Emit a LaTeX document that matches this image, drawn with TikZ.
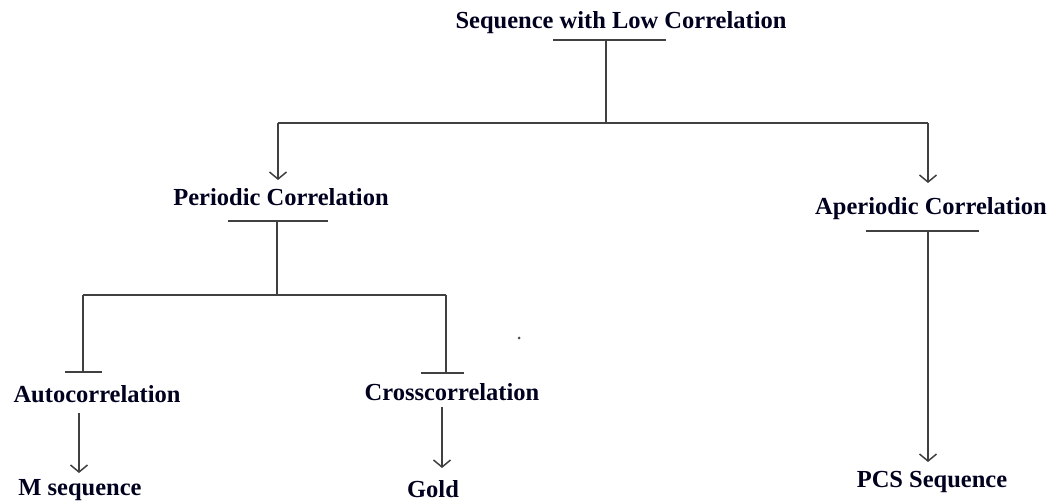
\documentclass[tikz,border=0pt]{standalone}
\usepackage{fontspec}
\setmainfont{Liberation Serif}
\usetikzlibrary{arrows.meta}
\begin{document}
\begin{tikzpicture}[x=1pt,y=-1pt,
  lbl/.style={font=\fontsize{24.5}{28}\selectfont\bfseries, text=black!88!blue, inner sep=0pt, anchor=base},
  wire/.style={draw=black!75, line width=1.5pt},
  arr/.style={wire, -{Straight Barb[length=7pt,width=17pt]}}]
\useasboundingbox (0,0) rectangle (1050,502);

% labels
\node[lbl] (root)  at (621,29)  {Sequence with Low Correlation};
\node[lbl] (per)   at (281,206) {Periodic Correlation};
\node[lbl] (aper)  at (931,215) {Aperiodic Correlation};
\node[lbl] (auto)  at (97,403)  {Autocorrelation};
\node[lbl] (cross) at (452,401) {Crosscorrelation};
\node[lbl] (mseq)  at (80,495)  {M sequence};
\node[lbl] (gold)  at (433,497) {Gold};
\node[lbl] (pcs)   at (932,487) {PCS Sequence};

% bars under the labels
\coordinate (rootbar) at (606,40);
\coordinate (perbar)  at (277,221);
\coordinate (aperbar) at (928,231);
\draw[wire] (553,40) -- (666,40);
\draw[wire] (228,221) -- (328,221);
\draw[wire] (866,231) -- (979,231);

% first level split
\coordinate (hubA) at (606,123);
\coordinate (hubAl) at (278,123);
\coordinate (hubAr) at (928,123);
\coordinate (perin) at (278,180);
\coordinate (aperin) at (928,183);
\draw[wire] (rootbar) -- (hubA);
\draw[wire] (hubAl) -- (hubAr);
\draw[arr] (hubAl) -- (perin);
\draw[arr] (hubAr) -- (aperin);

% second level split
\coordinate (hubB) at (277,295);
\coordinate (hubBl) at (83,295);
\coordinate (hubBr) at (446,295);
\coordinate (autobar) at (83,372);
\coordinate (crossbar) at (446,373);
\draw[wire] (perbar) -- (hubB);
\draw[wire] (hubBl) -- (hubBr);
\draw[wire] (hubBl) -- (autobar);
\draw[wire] (hubBr) -- (crossbar);
\draw[wire] (65,372) -- (102,372);
\draw[wire] (421,373) -- (464,373);

% leaves
\coordinate (autoout) at (79,413);
\coordinate (msin) at (79,473);
\coordinate (crossout) at (442,407);
\coordinate (goldin) at (442,468);
\coordinate (pcsin) at (928,462);
\draw[arr] (autoout) -- (msin);
\draw[arr] (crossout) -- (goldin);
\draw[arr] (aperbar) -- (pcsin);

% stray dot
\fill[black!70] (519,338) circle (1.5);
\end{tikzpicture}
\end{document}
